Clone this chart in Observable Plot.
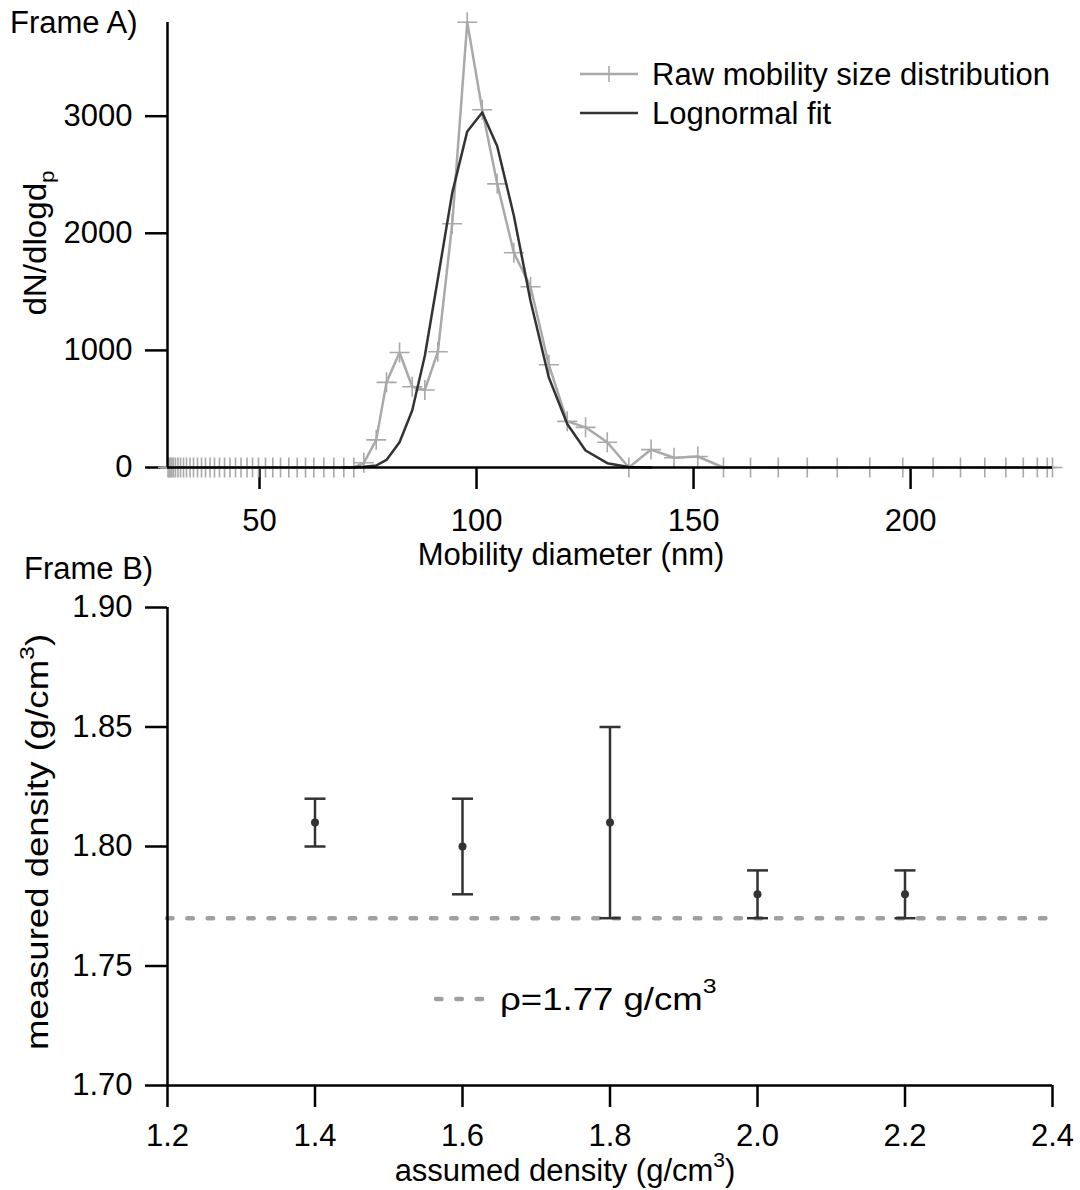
<!DOCTYPE html>
<html>
<head>
<meta charset="utf-8">
<script src="https://cdn.jsdelivr.net/npm/d3@7"></script>
<script src="https://cdn.jsdelivr.net/npm/@observablehq/plot@0.6"></script>
<style>
html, body { margin: 0; padding: 0; background: #fff; }
#wrap { position: relative; width: 1080px; height: 1190px; overflow: hidden; background: #fff; }
#wrap svg { position: absolute; left: 0; }
#wrap g[aria-label*="axis"] line, #wrap g[aria-label*="axis"] path { stroke: #000; stroke-width: 2.5px; }
#wrap g[aria-label*="axis"] text { fill: #000; }
</style>
</head>
<body>
<div id="wrap"></div>
<script>
// ---------------- Frame A: mobility size distribution ----------------
const rawDiameter = [
  28.92, 29.15, 29.38, 29.61, 29.84, 30.18, 30.65, 31.22, 31.80, 32.49, 33.18, 33.99, 34.79,
  35.71, 36.64, 37.56, 38.59, 39.63, 40.78, 41.94, 43.20, 44.47, 45.74, 47.12, 48.39, 49.77,
  51.38, 53.06, 54.84, 56.75, 58.69, 60.60, 62.51, 64.82, 67.12, 69.42, 71.73,
  74.03, 76.89, 79.26, 82.26, 85.18, 88.09, 91.08, 94.40, 97.86, 101.31, 104.77, 108.60,
  112.44, 116.66, 120.90, 125.12, 130.12, 135.09, 140.20, 145.50, 150.97, 156.90,
  163.13, 169.52, 176.20, 183.10, 190.60, 198.20, 205.20, 211.50, 217.10, 221.96, 225.97,
  229.20, 231.50, 232.70
];
const rawCount = [
  0, 0, 0, 0, 0, 0, 0, 0, 0, 0, 0, 0, 0,
  0, 0, 0, 0, 0, 0, 0, 0, 0, 0, 0, 0, 0,
  0, 0, 0, 0, 0, 0, 0, 0, 0, 0, 0,
  40, 236, 727, 982, 690, 662, 988, 2081, 3802, 3055, 2422, 1834,
  1544, 877, 394, 343, 216, 0, 153, 83, 94, 0,
  0, 0, 0, 0, 0, 0, 0, 0, 0, 0, 0,
  0, 0, 0
];
const fitDiameter = [69.42, 71.73, 74.03, 76.89, 79.26, 82.26, 85.18, 88.09, 91.08, 94.40, 97.86,
  101.31, 104.77, 108.60, 112.44, 116.66, 120.90, 125.12, 130.12, 135.09, 140.20];
const fitCount = [0, 2, 6, 17, 65, 216, 486, 954, 1610, 2345, 2870,
  3032, 2743, 2150, 1422, 769, 372, 145, 37, 5, 0];
const xTicksA = [50, 100, 150, 200];
const yTicksA = [0, 1000, 2000, 3000];
const xDomainA = [28.8, 232.7];
const yDomainA = [0, 3800];
const legendA = ["Raw mobility size distribution", "Lognormal fit"];

// ---------------- Frame B: density ----------------
const assumedDensity = [1.4, 1.6, 1.8, 2.0, 2.2];
const measuredDensity = [1.81, 1.80, 1.81, 1.78, 1.78];
const densityLow = [1.80, 1.78, 1.77, 1.77, 1.77];
const densityHigh = [1.82, 1.82, 1.85, 1.79, 1.79];
const referenceDensity = 1.77;
const xTicksB = [1.2, 1.4, 1.6, 1.8, 2.0, 2.2, 2.4];
const yTicksB = [1.70, 1.75, 1.80, 1.85, 1.90];
const xDomainB = [1.2, 2.4];
const yDomainB = [1.70, 1.90];

// ---------------- helpers ----------------
const FONT = "'Liberation Sans', Arial, Helvetica, sans-serif";
const FS = 31;
const plusSymbol = { draw(ctx, size) { const r = Math.sqrt(size / Math.PI); ctx.moveTo(-r, 0); ctx.lineTo(r, 0); ctx.moveTo(0, -r); ctx.lineTo(0, r); } };
const capSymbol = { draw(ctx, size) { const r = Math.sqrt(size / Math.PI); ctx.moveTo(-r, 0); ctx.lineTo(r, 0); } };
const RAW = "#a9a9a9", DARK = "#333333", DASH = "#a0a0a0";

const wrap = document.getElementById("wrap");

// ---------------- Plot A ----------------
const rawData = rawDiameter.map((d, i) => ({ d, n: rawCount[i] }));
const fitData = fitDiameter.map((d, i) => ({ d, n: fitCount[i] }));

const plotA = Plot.plot({
  width: 1080, height: 600,
  marginLeft: 167, marginRight: 28, marginTop: 22, marginBottom: 133,
  style: { background: "transparent", fontFamily: FONT, fontSize: FS + "px", color: "#000" },
  x: { domain: xDomainA, ticks: xTicksA, tickSize: 22, tickPadding: 19, tickFormat: d3.format("d"), label: null },
  y: { domain: yDomainA, ticks: yTicksA, tickSize: 22, tickPadding: 13, tickFormat: d3.format("d"), label: null },
  marks: [
    Plot.line(rawData, { x: "d", y: "n", stroke: RAW, strokeWidth: 2.5 }),
    Plot.dot(rawData, { x: "d", y: "n", symbol: plusSymbol, r: 10, stroke: RAW, strokeWidth: 1.6, fill: "none" }),
    Plot.line(fitData, { x: "d", y: "n", stroke: DARK, strokeWidth: 2.5 }),
    Plot.ruleY([yDomainA[0]], { stroke: "#000", strokeWidth: 2.5 }),
    Plot.ruleX([xDomainA[0]], { stroke: "#000", strokeWidth: 2.5 })
  ]
});
plotA.style.top = "0px";
wrap.appendChild(plotA);

{
  const s = d3.select(plotA);
  const t = (x, y, str, anchor = "start") => s.append("text").attr("x", x).attr("y", y)
    .attr("font-family", FONT).attr("font-size", FS).attr("fill", "#000").attr("text-anchor", anchor).text(str);
  t(10, 33, "Frame A)");
  t(571, 565, "Mobility diameter (nm)", "middle");
  const yl = s.append("text").attr("transform", "translate(46,243) rotate(-90) scale(1.07,1)")
    .attr("font-family", FONT).attr("font-size", FS).attr("fill", "#000").attr("text-anchor", "middle");
  yl.append("tspan").text("dN/dlogd");
  yl.append("tspan").attr("font-size", 21).attr("dy", 8).text("p");
  // legend
  s.append("line").attr("x1", 580).attr("x2", 638).attr("y1", 74).attr("y2", 74).attr("stroke", RAW).attr("stroke-width", 2.5);
  s.append("line").attr("x1", 609).attr("x2", 609).attr("y1", 66).attr("y2", 82).attr("stroke", RAW).attr("stroke-width", 1.6);
  t(652, 85, legendA[0]);
  s.append("line").attr("x1", 580).attr("x2", 638).attr("y1", 113).attr("y2", 113).attr("stroke", DARK).attr("stroke-width", 2.5);
  t(652, 124, legendA[1]);
}

// ---------------- Plot B ----------------
const bData = assumedDensity.map((x, i) => ({ x, y: measuredDensity[i], lo: densityLow[i], hi: densityHigh[i] }));

const plotB = Plot.plot({
  width: 1080, height: 650,
  marginLeft: 167, marginRight: 28, marginTop: 67, marginBottom: 105,
  style: { background: "transparent", fontFamily: FONT, fontSize: FS + "px", color: "#000" },
  x: { domain: xDomainB, ticks: xTicksB, tickSize: 22, tickPadding: 16, tickFormat: d3.format(".1f"), label: null },
  y: { domain: yDomainB, ticks: yTicksB, tickSize: 22, tickPadding: 13, tickFormat: d3.format(".2f"), label: null },
  marks: [
    Plot.ruleY([referenceDensity], { stroke: DASH, strokeWidth: 4.5, strokeDasharray: "5.5,14.8", strokeLinecap: "round" }),
    Plot.ruleX(bData, { x: "x", y1: "lo", y2: "hi", stroke: DARK, strokeWidth: 2.5 }),
    Plot.dot(bData, { x: "x", y: "lo", symbol: capSymbol, r: 10.5, stroke: DARK, strokeWidth: 2.5, fill: "none" }),
    Plot.dot(bData, { x: "x", y: "hi", symbol: capSymbol, r: 10.5, stroke: DARK, strokeWidth: 2.5, fill: "none" }),
    Plot.dot(bData, { x: "x", y: "y", r: 4, fill: DARK, stroke: "none" }),
    Plot.ruleY([yDomainB[0]], { stroke: "#000", strokeWidth: 2.5 }),
    Plot.ruleX([xDomainB[0]], { stroke: "#000", strokeWidth: 2.5 })
  ]
});
plotB.style.top = "540px";
wrap.appendChild(plotB);

{
  const s = d3.select(plotB);
  const base = (x, y, anchor = "start") => s.append("text").attr("x", x).attr("y", y)
    .attr("font-family", FONT).attr("font-size", FS).attr("fill", "#000").attr("text-anchor", anchor);
  base(24, 39).text("Frame B)");
  // x title
  const xt = base(565, 641, "middle");
  xt.append("tspan").text("assumed density (g/cm");
  xt.append("tspan").attr("font-size", 21).attr("dy", -14).text("3");
  xt.append("tspan").attr("dy", 14).text(")");
  // y title
  const yt = s.append("text").attr("transform", "translate(48,302) rotate(-90) scale(1.18,1)")
    .attr("font-family", FONT).attr("font-size", FS).attr("fill", "#000").attr("text-anchor", "middle");
  yt.append("tspan").text("measured density (g/cm");
  yt.append("tspan").attr("font-size", 21).attr("dy", -14).text("3");
  yt.append("tspan").attr("dy", 14).text(")");
  // legend
  s.append("line").attr("x1", 436).attr("x2", 490).attr("y1", 459).attr("y2", 459)
    .attr("stroke", DASH).attr("stroke-width", 4.5).attr("stroke-dasharray", "5.5,14.8").attr("stroke-linecap", "round");
  const lt = s.append("text").attr("transform", "translate(500,470) scale(1.18,1)")
    .attr("x", 0).attr("y", 0).attr("text-anchor", "start")
    .attr("font-family", FONT).attr("font-size", FS).attr("fill", "#000");
  lt.append("tspan").text("ρ=" + referenceDensity.toFixed(2) + " g/cm");
  lt.append("tspan").attr("font-size", 21).attr("dy", -17).text("3");
}
</script>
</body>
</html>
